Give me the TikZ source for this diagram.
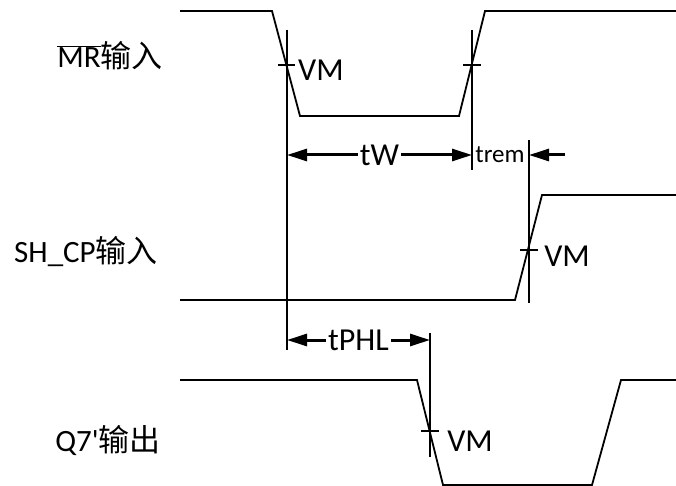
\documentclass[tikz,border=0pt]{standalone}
\usepackage{fontspec}
\usepackage{graphicx}
\setmainfont{Carlito}
\newfontfamily\cjk{Noto Sans CJK SC}
\usetikzlibrary{arrows.meta}
\begin{document}
\begin{tikzpicture}[x=1pt,y=-1pt,
  wave/.style={line width=1.8pt, line join=miter},
  guide/.style={line width=1.4pt},
  tip/.tip={Triangle[length=20pt,width=12pt]},
  dim/.style={line width=3pt, {tip}-{tip}},
  dimr/.style={line width=3pt, -{tip}},
  lbl/.style={font=\fontsize{31}{36}\selectfont, inner sep=0pt},
  vm/.style={font=\fontsize{32}{36}\selectfont, inner sep=0pt},
  dimtxt/.style={font=\fontsize{32}{36}\selectfont, fill=white, inner sep=2pt}]
\useasboundingbox (0,0) rectangle (676,486);
% labels
\node[lbl] (lmr) at (110,56) {\(\overline{\hbox{MR}}\)\cjk 输入};
\node[lbl] (lsh) at (86,252) {SH\_CP\cjk 输入};
\node[lbl] (lq7) at (108,440) {Q7\textquotesingle\cjk 输出};
% waveforms
\draw[wave] (180,11) -- (272,11) -- (300,116) -- (459,116) -- (485,11) -- (676,11);
\draw[wave] (180,300) -- (515,300) -- (542,195) -- (676,195);
\draw[wave] (180,380) -- (417,380) -- (443,485) -- (592,485) -- (621,380) -- (676,380);
% guide lines
\coordinate (v1t) at (287,30); \coordinate (v1b) at (287,350);
\coordinate (v2t) at (472,30); \coordinate (v2b) at (472,170);
\coordinate (v3t) at (529,140); \coordinate (v3b) at (529,303);
\coordinate (v4t) at (430,333); \coordinate (v4b) at (430,457);
\draw[guide] (v1t) -- (v1b);
\draw[guide] (v2t) -- (v2b);
\draw[guide] (v3t) -- (v3b);
\draw[guide] (v4t) -- (v4b);
% ticks
\draw[guide] (278,65) -- (295,65);
\draw[guide] (463,65) -- (481,65);
\draw[guide] (520,250) -- (538,250);
\draw[guide] (421,431) -- (439,431);
% VM labels
\node[vm] (vm1) at (321,70) {VM};
\node[vm] (vm2) at (567,256) {VM};
\node[vm] (vm3) at (470,441) {VM};
% dimensions
\coordinate (tw1) at (287,155); \coordinate (tw2) at (472,155);
\draw[dim] (tw1) -- node[dimtxt] {tW} (tw2);
\node[font=\fontsize{25}{28}\selectfont, inner sep=0pt] (trem) at (500,155) {trem};
\coordinate (tr1) at (565,155); \coordinate (tr2) at (529,155);
\draw[dimr] (tr1) -- (tr2);
\coordinate (tp1) at (287,340); \coordinate (tp2) at (430,340);
\draw[dim] (tp1) -- node[dimtxt] {tPHL} (tp2);
\end{tikzpicture}
\end{document}
